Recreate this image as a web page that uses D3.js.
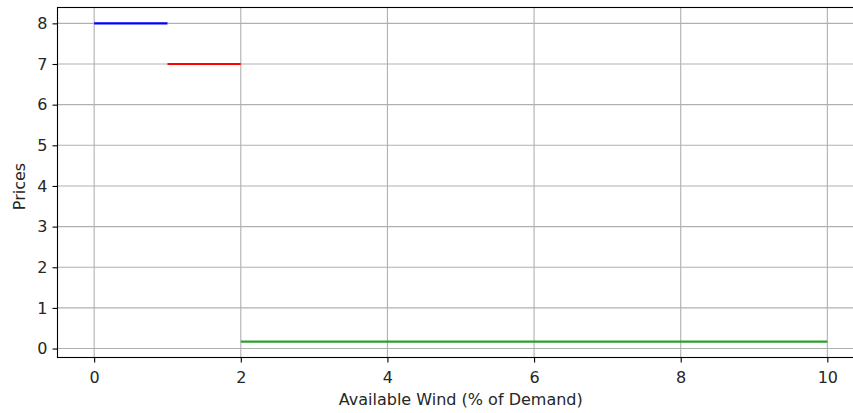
<!DOCTYPE html>
<html>
<head>
<meta charset="utf-8">
<script src="https://d3js.org/d3.v7.min.js"></script>
<style>
body { margin: 0; background: #fff; }
svg text { font-family: "DejaVu Sans", sans-serif; fill: #262626; }
</style>
</head>
<body>
<svg id="chart" width="853" height="413"></svg>
<script>
// price steps: [x start, x end, price]
var segStart = [0, 1, 2];
var segEnd = [1, 2, 10];
var segPrice = [8, 7, 0.17];
var segColor = ["#0000ff", "#ff0000", "#2ca02c"];
var xTicks = [0, 2, 4, 6, 8, 10];
var yTicks = [0, 1, 2, 3, 4, 5, 6, 7, 8];

var margin = {left: 57.5, top: 7.5},
    width = 806.5, height = 350;

var svg = d3.select("#chart");
var g = svg.append("g").attr("transform", "translate(" + margin.left + "," + margin.top + ")");

var x = d3.scaleLinear().domain([-0.5, 10.5]).range([0, width]);
var y = d3.scaleLinear().domain([-0.22, 8.39]).range([height, 0]);

// grid
g.append("g").selectAll("line").data(xTicks).enter().append("line")
  .attr("x1", d => x(d)).attr("x2", d => x(d))
  .attr("y1", 0).attr("y2", height)
  .attr("stroke", "#b0b0b0").attr("stroke-width", 1.1);
g.append("g").selectAll("line").data(yTicks).enter().append("line")
  .attr("y1", d => y(d)).attr("y2", d => y(d))
  .attr("x1", 0).attr("x2", width)
  .attr("stroke", "#b0b0b0").attr("stroke-width", 1.1);

// segments
g.append("g").selectAll("line").data(segStart).enter().append("line")
  .attr("x1", (d, i) => x(segStart[i]))
  .attr("x2", (d, i) => x(segEnd[i]))
  .attr("y1", (d, i) => y(segPrice[i]))
  .attr("y2", (d, i) => y(segPrice[i]))
  .attr("stroke", (d, i) => segColor[i])
  .attr("stroke-width", 2.2);

// frame
g.append("rect").attr("width", width).attr("height", height)
  .attr("fill", "none").attr("stroke", "#000").attr("stroke-width", 1.1);

// axes
var xAxis = g.append("g").attr("transform", "translate(0," + height + ")")
  .call(d3.axisBottom(x).tickValues(xTicks).tickSize(5).tickPadding(9));
var yAxis = g.append("g")
  .call(d3.axisLeft(y).tickValues(yTicks).tickSize(5).tickPadding(5));
[xAxis, yAxis].forEach(function(a) {
  a.select(".domain").remove();
  a.selectAll(".tick line").attr("stroke", "#000").attr("stroke-width", 1.1);
  a.selectAll(".tick text").attr("font-size", 16).style("fill", "#262626");
});

svg.append("text")
  .attr("x", margin.left + x(5)).attr("y", 404.5)
  .attr("text-anchor", "middle").attr("font-size", 16)
  .text("Available Wind (% of Demand)");
svg.append("text")
  .attr("transform", "translate(25,186.5) rotate(-90)")
  .attr("text-anchor", "middle").attr("font-size", 16)
  .text("Prices");
</script>
</body>
</html>
